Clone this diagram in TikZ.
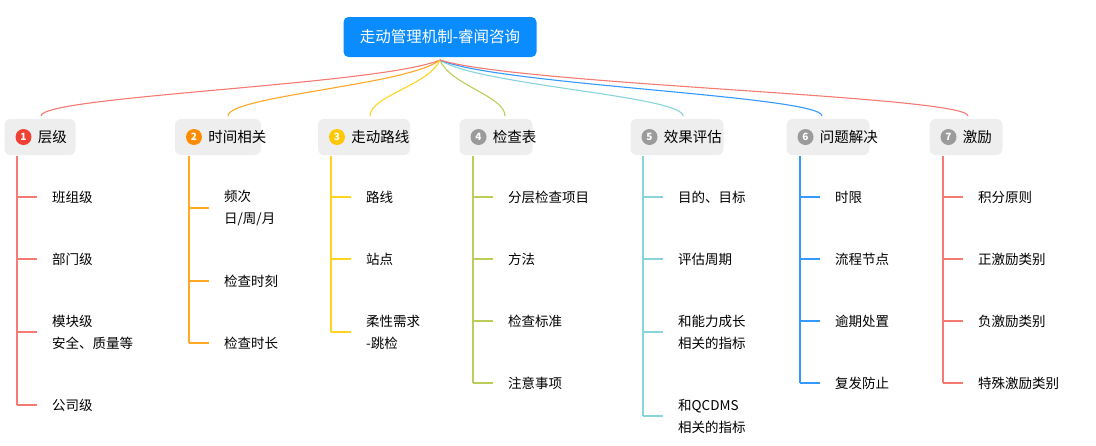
\documentclass[tikz,border=0pt]{standalone}
\usepackage{fontspec}
\newfontfamily\cjk{Noto Sans CJK SC}
\definecolor{rootc}{RGB}{10,140,255}
\definecolor{boxc}{RGB}{238,238,238}
\definecolor{c1}{RGB}{244,122,114}\definecolor{b1}{RGB}{240,65,52}
\definecolor{c2}{RGB}{255,168,38}\definecolor{b2}{RGB}{255,140,0}
\definecolor{c3}{RGB}{255,212,30}\definecolor{b3}{RGB}{255,200,0}
\definecolor{c4}{RGB}{190,204,90}\definecolor{b4}{RGB}{155,155,155}
\definecolor{c5}{RGB}{136,212,220}
\definecolor{c6}{RGB}{51,153,255}
\definecolor{c7}{RGB}{244,122,114}
\tikzset{
 root/.style={fill=rootc,rounded corners=5pt,text=white,font=\cjk\fontsize{15.5}{18}\selectfont,minimum height=40pt,minimum width=193pt},
 branch/.style={fill=boxc,rounded corners=6pt,minimum height=36pt},
 badge/.style={circle,fill=#1,text=white,inner sep=0pt,minimum size=16pt,font=\cjk\fontsize{10}{11}\selectfont\bfseries},
 btext/.style={anchor=west,font=\cjk\fontsize{14.5}{17}\selectfont,inner sep=0pt},
 leaf/.style={anchor=west,font=\cjk\fontsize{13.5}{22}\selectfont,align=left,inner sep=0pt},
 conn/.style={line width=1.1pt},
}
\begin{document}
\begin{tikzpicture}[x=1pt,y=-1pt]
\useasboundingbox (0,0) rectangle (1096,445);
\node[root] (r) at (440,37) {走动管理机制-睿闻咨询};
\coordinate (rs) at (440,60);
\foreach \i/\cx/\tx/\w/\col/\bc/\txt in {
 1/40/41/71/c1/b1/层级,
 2/218/228/86/c2/b2/时间相关,
 3/364/370/92/c3/b3/走动路线,
 4/496/505/73/c4/b4/检查表,
 5/677/683/93/c5/b4/效果评估,
 6/828/822/83/c6/b4/问题解决,
 7/966/968/73/c7/b4/激励}{
 \node[branch,minimum width=\w pt] (B\i) at (\cx,137) {};
 \node[badge=\bc,anchor=west] (n\i) at ([xshift=11pt]B\i.west) {\i};
 \node[btext] (t\i) at ([xshift=6pt]n\i.east) {\txt};
 \coordinate (top\i) at (\tx,116);
 \draw[conn,\col] (rs) .. controls ({440+(\tx-440)*0.15},85) and (\tx,96) .. (top\i);
}
\newcommand\leafs[4]{%
 \foreach \y/\t [count=\k] in {#4}{
  \coordinate (L#1\k) at (#2+20,\y);
  \draw[conn,#3] (#2,\y) -- (L#1\k);
  \node[leaf] (T#1\k) at (#2+35,\y) {\t};
 }}
\def\bl#1#2#3#4{\draw[conn,#3] (#2,156) -- (#2,#4);}
\bl{1}{17}{c1}{405}
\leafs{1}{17}{c1}{197/班组级,259/部门级,332/{模块级\\安全、质量等},405/公司级}
\bl{2}{189}{c2}{343}
\leafs{2}{189}{c2}{208/{频次\\日/周/月},281/检查时刻,343/检查时长}
\bl{3}{331}{c3}{332}
\leafs{3}{331}{c3}{197/路线,259/站点,332/{柔性需求\\-跳检}}
\bl{4}{473}{c4}{383}
\leafs{4}{473}{c4}{197/分层检查项目,259/方法,321/检查标准,383/注意事项}
\bl{5}{643}{c5}{416}
\leafs{5}{643}{c5}{197/{目的、目标},259/评估周期,332/{和能力成长\\相关的指标},416/{和QCDMS\\相关的指标}}
\bl{6}{800}{c6}{383}
\leafs{6}{800}{c6}{197/时限,259/流程节点,321/逾期处置,383/复发防止}
\bl{7}{943}{c7}{383}
\leafs{7}{943}{c7}{197/积分原则,259/正激励类别,321/负激励类别,383/特殊激励类别}
\end{tikzpicture}
\end{document}
